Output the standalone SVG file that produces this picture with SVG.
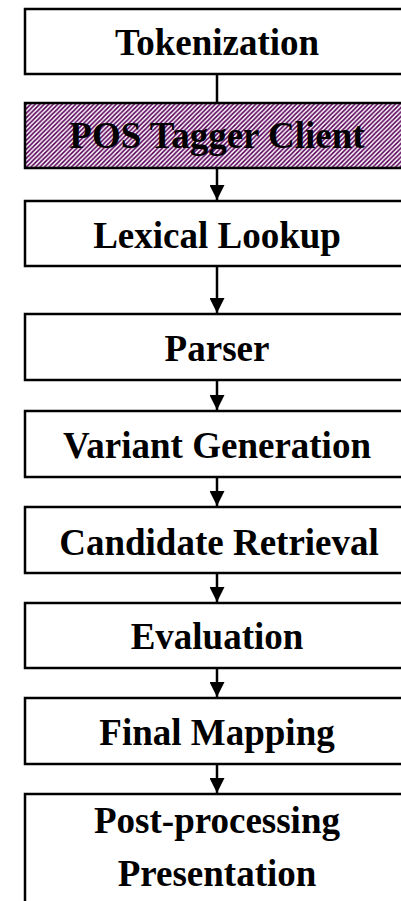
<svg xmlns="http://www.w3.org/2000/svg" width="401" height="901" viewBox="0 0 401 901">
<style>
.box{fill:#fff;stroke:#000;stroke-width:2.5}
.hatch{fill:url(#hatch);stroke:#000;stroke-width:2.5}
.lbl{font-family:"Liberation Serif","Times New Roman",serif;font-weight:bold;font-size:37px;text-anchor:middle;fill:#000}
.conn{stroke:#000;stroke-width:2.5;fill:none}
</style>
<defs>
<pattern id="hatch" patternUnits="userSpaceOnUse" width="4.5" height="4.5">
<rect width="4.5" height="4.5" fill="#fff"/>
<path d="M-1,1 l2,-2 M0,4.5 l4.5,-4.5 M3.5,5.5 l2,-2" stroke="#5a005a" stroke-width="1.6"/>
</pattern>
<marker id="arr" markerWidth="15" markerHeight="15" refX="15" refY="7.5" orient="auto" markerUnits="userSpaceOnUse">
<path d="M0,0 L15,7.5 L0,15 Z" fill="#000"/>
</marker>
</defs>
<g id="connectors">
<line class="conn" x1="217" y1="74" x2="217" y2="103"/>
<line class="conn" x1="217" y1="168" x2="217" y2="200" marker-end="url(#arr)"/>
<line class="conn" x1="217" y1="266" x2="217" y2="313" marker-end="url(#arr)"/>
<line class="conn" x1="217" y1="380" x2="217" y2="410" marker-end="url(#arr)"/>
<line class="conn" x1="217" y1="477" x2="217" y2="506" marker-end="url(#arr)"/>
<line class="conn" x1="217" y1="573" x2="217" y2="602" marker-end="url(#arr)"/>
<line class="conn" x1="217" y1="668" x2="217" y2="697" marker-end="url(#arr)"/>
<line class="conn" x1="217" y1="764" x2="217" y2="793" marker-end="url(#arr)"/>
</g>
<g id="tokenization"><rect class="box" x="25" y="9" width="384" height="65"/><text class="lbl" x="217" y="55">Tokenization</text></g>
<g id="pos-tagger"><rect class="hatch" x="25" y="103" width="384" height="65"/><text class="lbl" x="217" y="148">POS Tagger Client</text></g>
<g id="lexical-lookup"><rect class="box" x="25" y="201" width="384" height="65"/><text class="lbl" x="217" y="248">Lexical Lookup</text></g>
<g id="parser"><rect class="box" x="25" y="314" width="384" height="66"/><text class="lbl" x="217" y="361">Parser</text></g>
<g id="variant-generation"><rect class="box" x="25" y="411" width="384" height="66"/><text class="lbl" x="217" y="458">Variant Generation</text></g>
<g id="candidate-retrieval"><rect class="box" x="25" y="507" width="384" height="66"/><text class="lbl" x="219" y="555">Candidate Retrieval</text></g>
<g id="evaluation"><rect class="box" x="25" y="603" width="384" height="65"/><text class="lbl" x="217" y="649">Evaluation</text></g>
<g id="final-mapping"><rect class="box" x="25" y="698" width="384" height="66"/><text class="lbl" x="217" y="745">Final Mapping</text></g>
<g id="post-processing"><rect class="box" x="25" y="794" width="384" height="130"/><text class="lbl" x="217" y="833">Post-processing</text><text class="lbl" x="217" y="886">Presentation</text></g>
</svg>
